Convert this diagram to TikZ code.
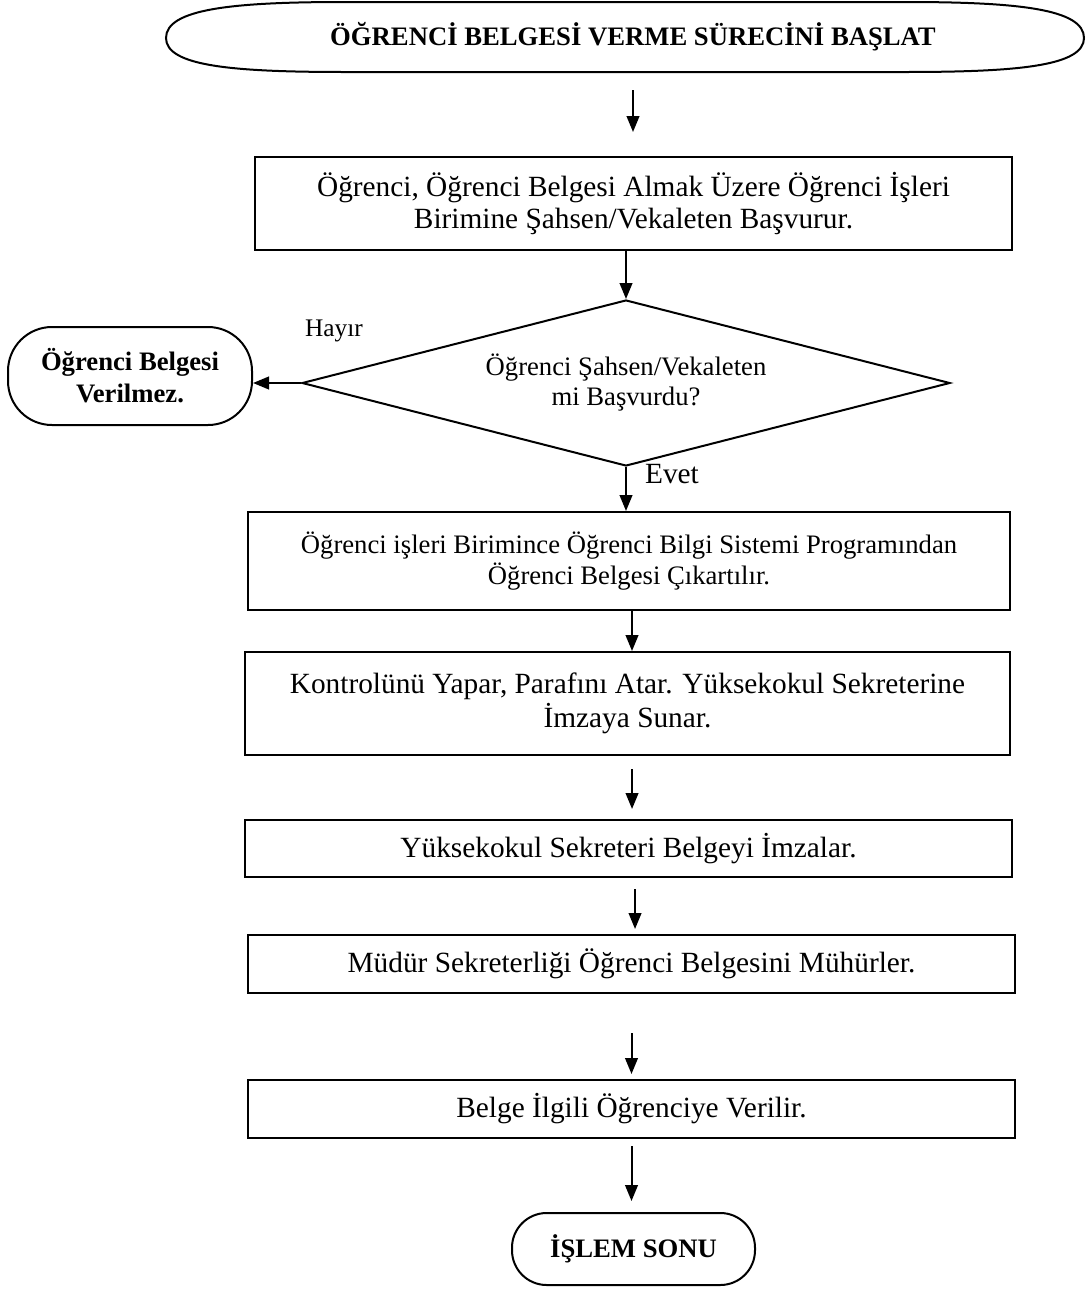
\documentclass[tikz,border=0pt]{standalone}
\usepackage{fontspec}
\setmainfont{Liberation Serif}
\usetikzlibrary{arrows.meta,shapes.geometric}
\begin{document}
\begin{tikzpicture}[x=0.75pt,y=-0.75pt,
  lw/.style={line width=1.5pt},
  box/.style={draw,lw,align=center,inner sep=0pt,font=\fontsize{22}{24}\selectfont},
  smallbox/.style={box,font=\fontsize{20}{23}\selectfont},
  term/.style={draw,lw,align=center,inner sep=0pt,rounded corners=26pt,font=\bfseries\fontsize{20}{24}\selectfont},
  decision/.style={draw,lw,diamond,align=center,inner sep=0pt,aspect=3.9,font=\fontsize{20}{22.5}\selectfont},
  arr/.style={lw,-{Triangle[length=12pt,width=9.5pt]}},
  lbl/.style={inner sep=0pt}]
\useasboundingbox (0,0) rectangle (1086,1289);
% start terminator
\draw[lw] (166,38) .. controls (166,9) and (232,2) .. (345,2) -- (905,2)
  .. controls (1018,2) and (1084,9) .. (1084,38)
  .. controls (1084,66) and (1018,72) .. (905,72) -- (345,72)
  .. controls (232,72) and (166,66) .. (166,38) -- cycle;
\node[inner sep=0pt,minimum width=690pt,minimum height=52.5pt,font=\bfseries\fontsize{20}{24}\selectfont] (start) at (633,37) {ÖĞRENCİ BELGESİ VERME SÜRECİNİ BAŞLAT};
\node[box,minimum width=567.75pt,minimum height=69.75pt] (b1) at (633.5,203.5) {Öğrenci, Öğrenci Belgesi Almak Üzere Öğrenci İşleri\\Birimine Şahsen/Vekaleten Başvurur.};
\node[decision,minimum width=486pt,minimum height=124.5pt] (d) at (626,383) {Öğrenci Şahsen/Vekaleten\\mi Başvurdu?};
\node[term,minimum width=183pt,minimum height=73.5pt,rounded corners=33pt] (no) at (130,376) {Öğrenci Belgesi\\Verilmez.};
\node[lbl,font=\fontsize{19}{22}\selectfont] (hayir) at (334,331) {Hayır};
\node[lbl,font=\fontsize{22}{24}\selectfont] (evet) at (672,474) {Evet};
\node[smallbox,minimum width=571.5pt,minimum height=73.5pt] (b2) at (629,561) {Öğrenci işleri Birimince Öğrenci Bilgi Sistemi Programından\\Öğrenci Belgesi Çıkartılır.};
\node[box,minimum width=573.75pt,minimum height=77.25pt,font=\fontsize{22}{25.5}\selectfont] (b3) at (627.5,703.5) {Kontrolünü Yapar, Parafını Atar. Yüksekokul Sekreterine\\İmzaya Sunar.};
\node[box,minimum width=575.25pt,minimum height=42.75pt] (b4) at (628.5,848.5) {Yüksekokul Sekreteri Belgeyi İmzalar.};
\node[box,minimum width=575.25pt,minimum height=43.5pt] (b5) at (631.5,964) {Müdür Sekreterliği Öğrenci Belgesini Mühürler.};
\node[box,minimum width=575.25pt,minimum height=43.5pt] (b6) at (631.5,1109) {Belge İlgili Öğrenciye Verilir.};
\node[term,minimum width=182.25pt,minimum height=54pt] (end) at (633.5,1249) {İŞLEM SONU};
% connectors
\draw[arr] ([yshift=-13.5pt]start.south) -- ([yshift=18pt]start.south |- b1.north);
\draw[arr] (d.north |- b1.south) -- (d.north);
\draw[arr] (d.south) -- (d.south |- b2.north);
\draw[arr] (d.west) -- (d.west -| no.east);
\draw[arr] ([xshift=2.25pt]b2.south) -- ([xshift=2.25pt]b2.south |- b3.north);
\draw[arr] ([xshift=3.4pt,yshift=-9.75pt]b3.south) -- ([xshift=3.4pt,yshift=7.5pt]b3.south |- b4.north);
\draw[arr] ([xshift=4.9pt,yshift=-8.25pt]b4.south) -- ([xshift=4.9pt,yshift=3.75pt]b4.south |- b5.north);
\draw[arr] ([yshift=-29.25pt]b5.south) -- ([yshift=3.75pt]b5.south |- b6.north);
\draw[arr] ([yshift=-5.25pt]b6.south) -- ([yshift=8.25pt]b6.south |- end.north);
\end{tikzpicture}
\end{document}
